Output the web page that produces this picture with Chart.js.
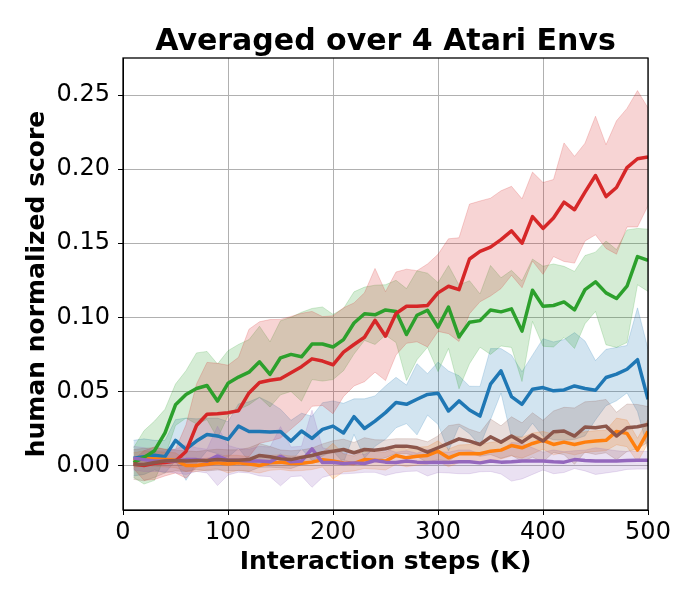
<!DOCTYPE html>
<html>
<head>
<meta charset="utf-8">
<script src="https://cdn.jsdelivr.net/npm/chart.js@4.4.1/dist/chart.umd.min.js"></script>
<style>
  html, body { margin: 0; padding: 0; background: #fff; }
  #wrap { width: 700px; height: 600px; }
</style>
</head>
<body>
<div id="wrap"><canvas id="chart" width="700" height="600"></canvas></div>
<script>
// interaction steps (K)
const steps = [10, 20, 30, 40, 50, 60, 70, 80, 90, 100,
  110, 120, 130, 140, 150, 160, 170, 180, 190, 200,
  210, 220, 230, 240, 250, 260, 270, 280, 290, 300,
  310, 320, 330, 340, 350, 360, 370, 380, 390, 400,
  410, 420, 430, 440, 450, 460, 470, 480, 490, 500];

const xTicks = [0, 100, 200, 300, 400, 500];
const yTicks = [0, 0.05, 0.10, 0.15, 0.20, 0.25];

// mean curves
const blueMean = [0.005, 0.006, 0.007, 0.006, 0.017, 0.011, 0.0165, 0.021, 0.020, 0.0176,
  0.0266, 0.023, 0.023, 0.0226, 0.023, 0.0165, 0.0233, 0.0183, 0.0244, 0.0266,
  0.022, 0.033, 0.025, 0.030, 0.0357, 0.0425, 0.0413, 0.0447, 0.048, 0.0488,
  0.0368, 0.0436, 0.0375, 0.0334, 0.0549, 0.0639, 0.0465, 0.0413, 0.0515, 0.0526,
  0.0504, 0.051, 0.0537, 0.052, 0.0508, 0.0594, 0.0617, 0.065, 0.0714, 0.0447];
const orangeMean = [0.0036, 0.005, 0.0045, 0.004, 0.0036, 0.0, 0.0, 0.001, 0.0018, 0.001,
  0.0018, 0.001, 0.0, 0.0018, 0.0023, 0.0014, 0.0016, 0.0023, 0.004, 0.003,
  0.0018, 0.0014, 0.004, 0.0036, 0.003, 0.0068, 0.0052, 0.0063, 0.0068, 0.0097,
  0.0052, 0.0079, 0.0082, 0.008, 0.0097, 0.0104, 0.0135, 0.012, 0.0149, 0.017,
  0.0142, 0.0158, 0.0142, 0.0158, 0.0165, 0.017, 0.023, 0.0217, 0.0104, 0.023];
const greenMean = [0.002, 0.0055, 0.010, 0.022, 0.041, 0.048, 0.052, 0.054, 0.0435, 0.0555,
  0.0597, 0.063, 0.070, 0.0615, 0.0727, 0.075, 0.0734, 0.082, 0.082, 0.080,
  0.085, 0.0962, 0.1024, 0.1017, 0.105, 0.104, 0.0884, 0.1014, 0.1048, 0.0934,
  0.107, 0.0868, 0.0967, 0.0978, 0.105, 0.1037, 0.1057, 0.0907, 0.1183, 0.1075,
  0.108, 0.1104, 0.105, 0.1187, 0.124, 0.1165, 0.1127, 0.121, 0.141, 0.1385];
const redMean = [0.001, 0.0, 0.0016, 0.002, 0.003, 0.0095, 0.027, 0.0346, 0.035, 0.0357,
  0.037, 0.049, 0.056, 0.0575, 0.0586, 0.0626, 0.0667, 0.072, 0.0705, 0.068,
  0.0765, 0.0817, 0.0866, 0.098, 0.0873, 0.1026, 0.1075, 0.1075, 0.108, 0.1165,
  0.121, 0.1187, 0.1394, 0.1445, 0.1474, 0.1524, 0.1584, 0.150, 0.168, 0.160,
  0.167, 0.1777, 0.1726, 0.1845, 0.1957, 0.1815, 0.1876, 0.201, 0.207, 0.2083];
const purpleMean = [0.005, 0.004, 0.003, 0.003, 0.003, 0.004, 0.004, 0.003, 0.0065, 0.0036,
  0.0035, 0.003, 0.003, 0.0025, 0.0063, 0.0025, 0.003, 0.0113, 0.002, 0.002,
  0.0014, 0.0018, 0.0014, 0.0034, 0.0023, 0.002, 0.003, 0.0023, 0.002, 0.0023,
  0.002, 0.0025, 0.0025, 0.0018, 0.003, 0.0023, 0.0025, 0.003, 0.003, 0.003,
  0.0025, 0.0023, 0.004, 0.0034, 0.003, 0.003, 0.003, 0.0034, 0.0036, 0.0036];
const brownMean = [0.0007, 0.0007, 0.002, 0.003, 0.0034, 0.003, 0.0034, 0.0034, 0.004, 0.0036,
  0.0036, 0.004, 0.0068, 0.0059, 0.0045, 0.004, 0.0055, 0.0068, 0.0086, 0.0097,
  0.0108, 0.0086, 0.0108, 0.0104, 0.0113, 0.0131, 0.0131, 0.012, 0.009, 0.012,
  0.0149, 0.018, 0.0165, 0.0142, 0.0194, 0.0158, 0.0199, 0.0158, 0.0206, 0.0165,
  0.0228, 0.0233, 0.0199, 0.026, 0.0255, 0.0266, 0.0199, 0.0255, 0.0262, 0.0278];

// spread (half width of the shaded band)
const blueStd = [0.012, 0.012, 0.010, 0.011, 0.014, 0.021, 0.015, 0.011, 0.012, 0.012,
  0.015, 0.020, 0.023, 0.020, 0.015, 0.014, 0.012, 0.015, 0.018, 0.017,
  0.020, 0.012, 0.020, 0.017, 0.018, 0.017, 0.013, 0.024, 0.014, 0.021,
  0.027, 0.017, 0.016, 0.020, 0.024, 0.015, 0.028, 0.022, 0.023, 0.033,
  0.033, 0.034, 0.036, 0.032, 0.020, 0.019, 0.018, 0.016, 0.035, 0.034];
const orangeStd = [0.005, 0.005, 0.005, 0.005, 0.005, 0.004, 0.004, 0.004, 0.004, 0.006,
  0.005, 0.005, 0.005, 0.005, 0.005, 0.005, 0.005, 0.005, 0.005, 0.012,
  0.006, 0.005, 0.006, 0.006, 0.006, 0.006, 0.006, 0.006, 0.006, 0.007,
  0.006, 0.006, 0.006, 0.006, 0.006, 0.006, 0.007, 0.007, 0.007, 0.006,
  0.007, 0.007, 0.007, 0.007, 0.007, 0.007, 0.009, 0.009, 0.008, 0.008];
const greenStd = [0.010, 0.018, 0.020, 0.016, 0.014, 0.016, 0.024, 0.023, 0.025, 0.022,
  0.022, 0.022, 0.024, 0.022, 0.025, 0.025, 0.030, 0.024, 0.025, 0.022,
  0.021, 0.021, 0.018, 0.020, 0.017, 0.021, 0.031, 0.030, 0.025, 0.030,
  0.028, 0.035, 0.028, 0.018, 0.030, 0.023, 0.026, 0.034, 0.021, 0.027,
  0.028, 0.024, 0.026, 0.023, 0.020, 0.035, 0.033, 0.038, 0.019, 0.021];
const redStd = [0.003, 0.010, 0.011, 0.009, 0.008, 0.018, 0.028, 0.035, 0.034, 0.032,
  0.036, 0.043, 0.041, 0.041, 0.040, 0.038, 0.036, 0.032, 0.030, 0.033,
  0.030, 0.028, 0.030, 0.035, 0.030, 0.028, 0.025, 0.024, 0.028, 0.026,
  0.032, 0.035, 0.037, 0.034, 0.033, 0.033, 0.030, 0.030, 0.030, 0.031,
  0.026, 0.040, 0.036, 0.033, 0.040, 0.035, 0.045, 0.040, 0.046, 0.033];
const purpleStd = [0.008, 0.008, 0.007, 0.007, 0.008, 0.010, 0.008, 0.008, 0.020, 0.010,
  0.008, 0.008, 0.010, 0.010, 0.020, 0.010, 0.010, 0.026, 0.010, 0.008,
  0.007, 0.007, 0.006, 0.008, 0.009, 0.007, 0.007, 0.006, 0.009, 0.007,
  0.007, 0.008, 0.008, 0.006, 0.007, 0.008, 0.013, 0.012, 0.009, 0.006,
  0.008, 0.007, 0.006, 0.007, 0.009, 0.008, 0.007, 0.006, 0.006, 0.006];
const brownStd = [0.010, 0.011, 0.010, 0.008, 0.007, 0.007, 0.006, 0.007, 0.007, 0.007,
  0.007, 0.008, 0.008, 0.007, 0.006, 0.006, 0.005, 0.005, 0.006, 0.007,
  0.007, 0.007, 0.008, 0.007, 0.006, 0.005, 0.005, 0.006, 0.007, 0.008,
  0.012, 0.010, 0.008, 0.008, 0.012, 0.011, 0.013, 0.013, 0.015, 0.014,
  0.014, 0.016, 0.019, 0.017, 0.018, 0.018, 0.016, 0.016, 0.015, 0.012];

const series = [
  { mean: blueMean,   std: blueStd,   color: [31, 119, 180] },
  { mean: orangeMean, std: orangeStd, color: [255, 127, 14] },
  { mean: greenMean,  std: greenStd,  color: [44, 160, 44] },
  { mean: redMean,    std: redStd,    color: [214, 39, 40] },
  { mean: purpleMean, std: purpleStd, color: [148, 103, 189] },
  { mean: brownMean,  std: brownStd,  color: [140, 86, 75] }
];

function rgba(c, a) {
  return 'rgba(' + c[0] + ',' + c[1] + ',' + c[2] + ',' + a + ')';
}

const datasets = [];
// shaded bands first (drawn underneath)
series.forEach(function(s, i) {
  datasets.push({
    data: steps.map((x, j) => ({ x: x, y: s.mean[j] - s.std[j] })),
    borderColor: rgba(s.color, 0.2),
    borderWidth: 1,
    pointRadius: 0,
    fill: false,
    order: 100 - i
  });
  datasets.push({
    data: steps.map((x, j) => ({ x: x, y: s.mean[j] + s.std[j] })),
    borderColor: rgba(s.color, 0.2),
    backgroundColor: rgba(s.color, 0.2),
    borderWidth: 1,
    pointRadius: 0,
    fill: '-1',
    order: 100 - i
  });
});
// mean lines on top
series.forEach(function(s, i) {
  datasets.push({
    data: steps.map((x, j) => ({ x: x, y: s.mean[j] })),
    borderColor: rgba(s.color, 1),
    borderWidth: 3.5,
    borderJoinStyle: 'round',
    pointRadius: 0,
    fill: false,
    order: 10 - i
  });
});

// top and right spines like matplotlib
const frame = {
  id: 'frame',
  afterDraw(chart) {
    const a = chart.chartArea;
    const ctx = chart.ctx;
    ctx.save();
    ctx.strokeStyle = '#000';
    ctx.lineWidth = 1.3;
    ctx.strokeRect(a.left, a.top, a.right - a.left, a.bottom - a.top);
    ctx.restore();
  }
};

const font = 'DejaVu Sans';

new Chart(document.getElementById('chart'), {
  type: 'line',
  data: { datasets: datasets },
  options: {
    responsive: false,
    animation: false,
    devicePixelRatio: 1,
    layout: { padding: { left: 0, right: 52, top: 0, bottom: 0 } },
    plugins: {
      legend: { display: false },
      tooltip: { enabled: false },
      title: {
        display: true,
        text: 'Averaged over 4 Atari Envs',
        color: '#000',
        fullSize: false,
        font: { family: font, size: 30, weight: 'bold', lineHeight: 1.0 },
        padding: { top: 27, bottom: 1 }
      }
    },
    scales: {
      x: {
        type: 'linear',
        min: 0,
        max: 500,
        afterBuildTicks: function(scale) { scale.ticks = xTicks.map(v => ({ value: v })); },
        afterFit: function(scale) { scale.height = 90; },
        ticks: {
          color: '#000',
          padding: 3,
          maxRotation: 0,
          font: { family: font, size: 24 },
          callback: v => String(v)
        },
        grid: { color: '#b0b0b0', lineWidth: 1, tickColor: '#000', tickLength: 5 },
        border: { display: true, color: '#000', width: 1 },
        title: {
          display: true,
          text: 'Interaction steps (K)',
          color: '#000',
          font: { family: font, size: 25, weight: 'bold' },
          padding: { top: 0, bottom: 23 }
        }
      },
      y: {
        type: 'linear',
        min: -0.030,
        max: 0.275,
        afterBuildTicks: function(scale) { scale.ticks = yTicks.map(v => ({ value: v })); },
        afterFit: function(scale) { scale.width = 123; },
        ticks: {
          color: '#000',
          padding: 8,
          font: { family: font, size: 24 },
          callback: v => v.toFixed(2)
        },
        grid: { color: '#b0b0b0', lineWidth: 1, tickColor: '#000', tickLength: 5 },
        border: { display: true, color: '#000', width: 1 },
        title: {
          display: true,
          text: 'human normalized score',
          color: '#000',
          font: { family: font, size: 25, weight: 'bold' },
          padding: { top: 22, bottom: 0 }
        }
      }
    }
  },
  plugins: [frame]
});
</script>
</body>
</html>
